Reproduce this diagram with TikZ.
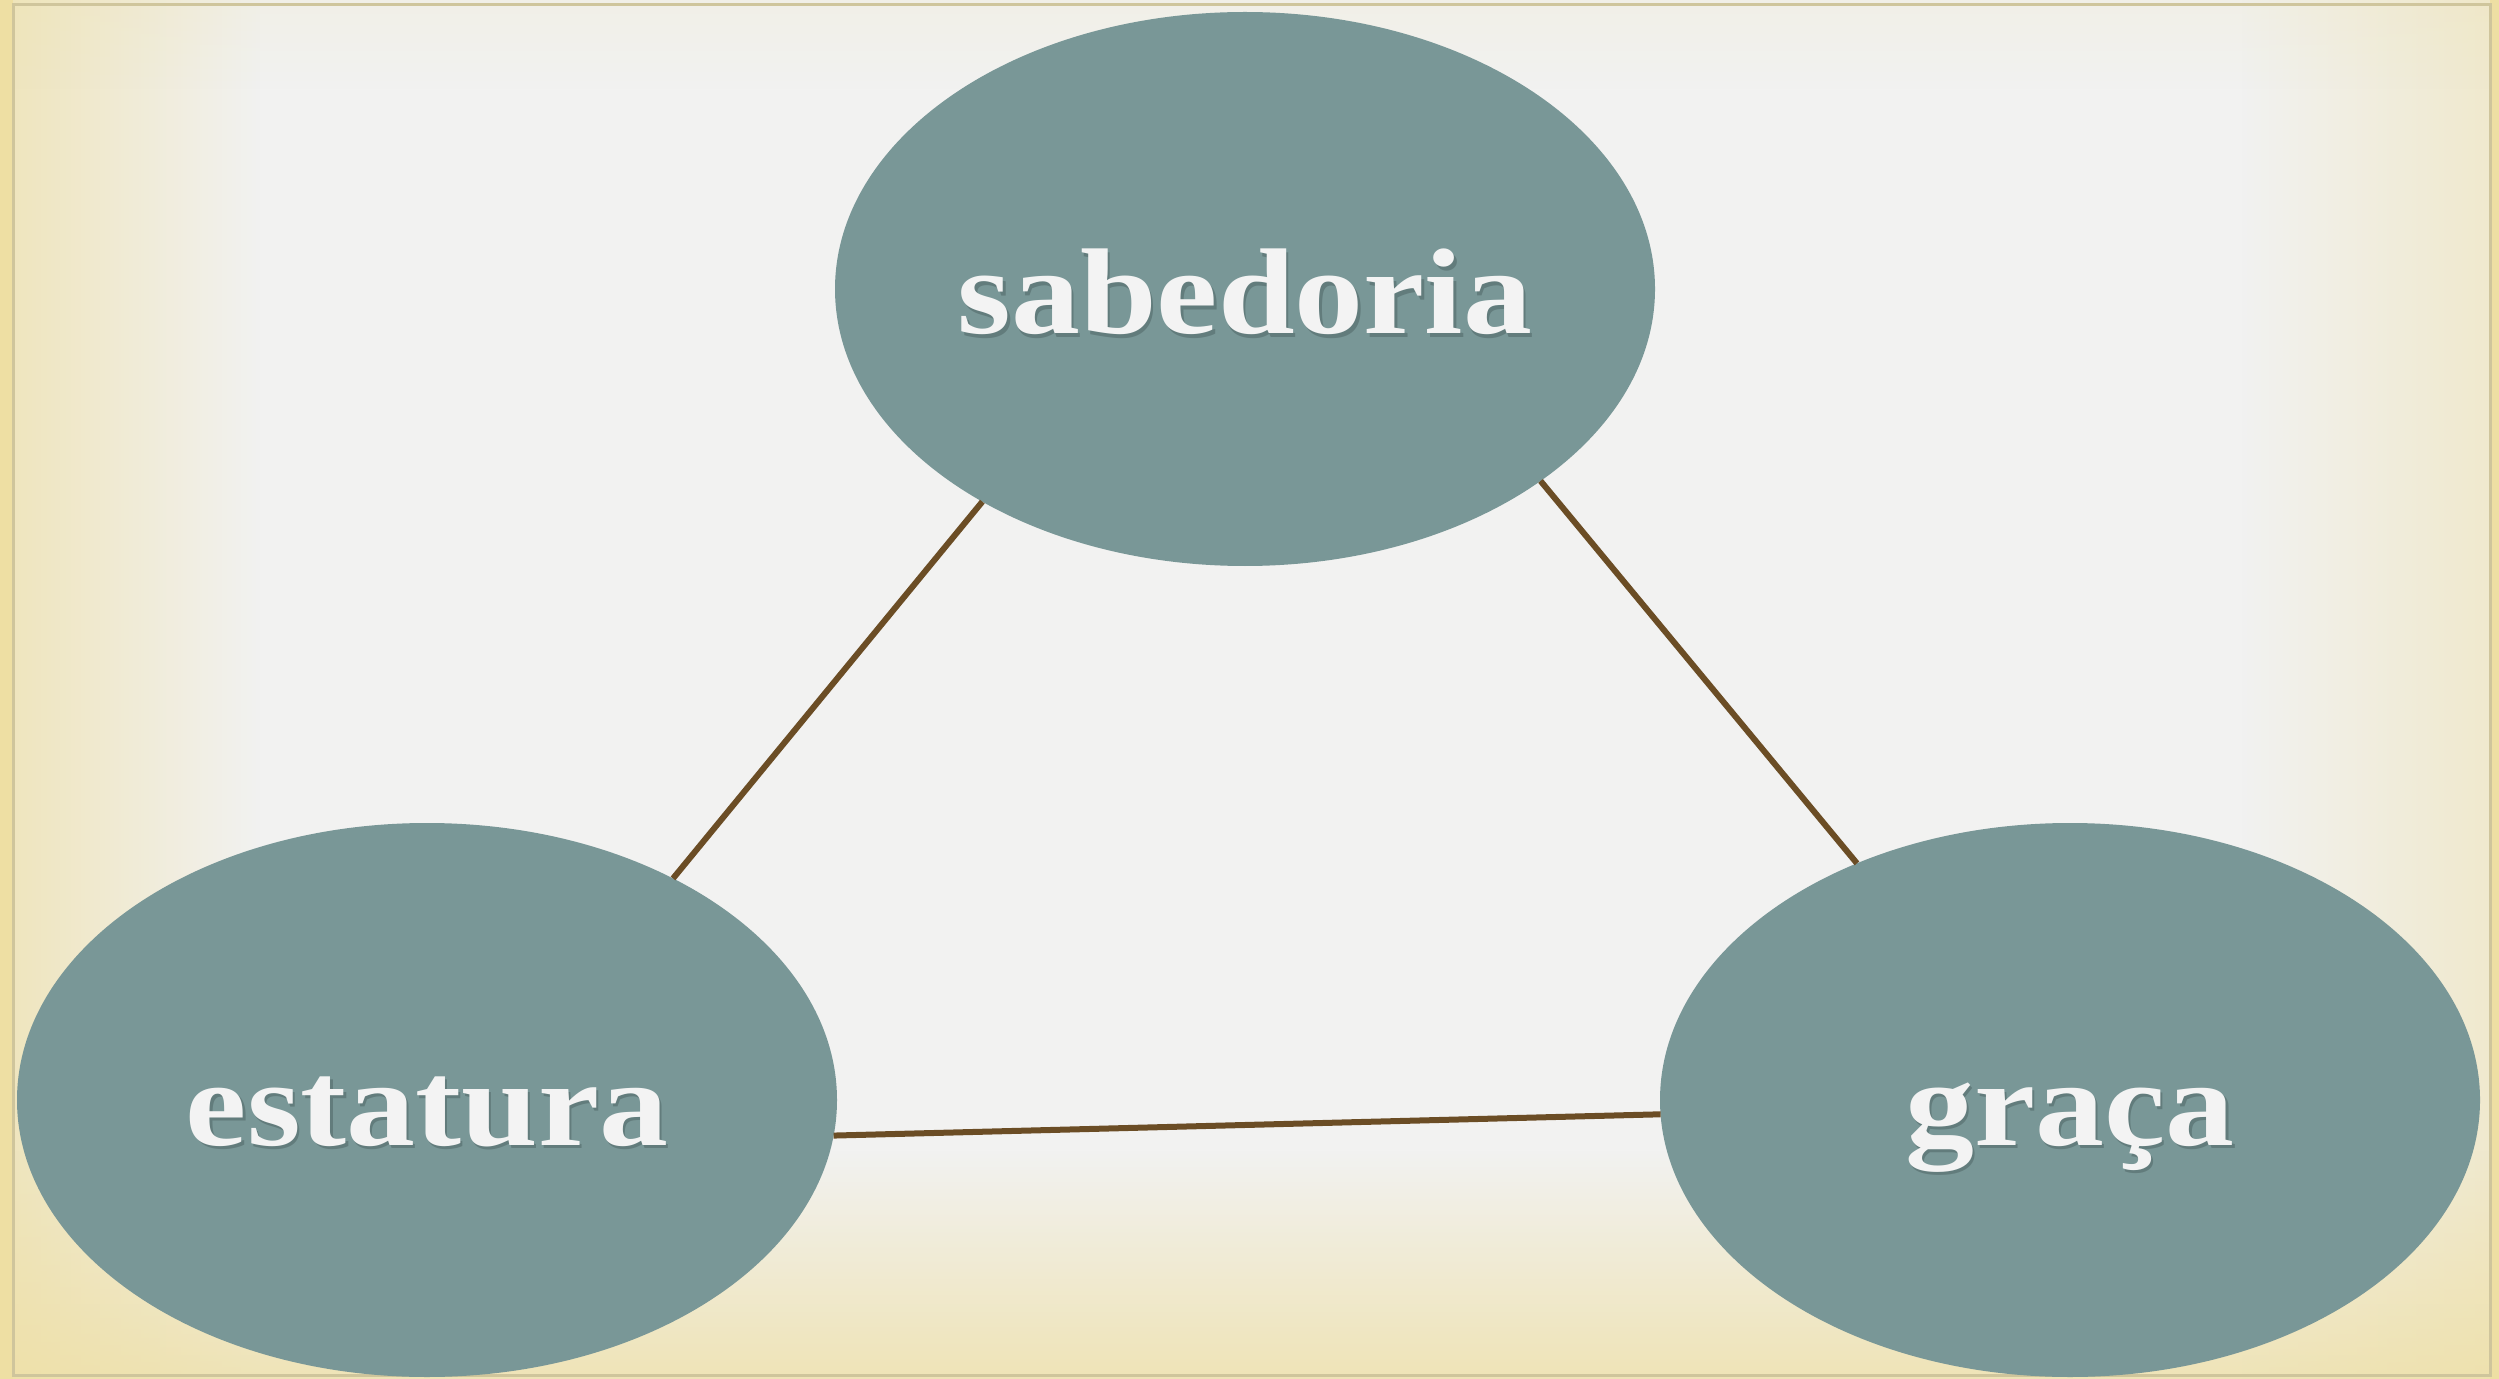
\documentclass[tikz,border=0pt]{standalone}
\usepackage{fontspec}
\newfontfamily\lblfont{Liberation Serif}[FakeStretch=1.13]
\usetikzlibrary{shapes.geometric,fadings}
\definecolor{bgc}{HTML}{F2F2F1}
\definecolor{vig}{HTML}{EEDFA3}
\definecolor{ellc}{HTML}{799797}
\definecolor{linec}{HTML}{6B4D25}
\definecolor{txtc}{HTML}{F3F3F3}
\definecolor{shc}{HTML}{627C7C}
\definecolor{framec}{HTML}{CFC59C}
\newcommand\shadowed[1]{\makebox[0pt][l]{\kern1.2pt\raisebox{-1.6pt}{\color{shc}#1}}#1}
\begin{document}
\begin{tikzpicture}[x=0.5pt,y=-0.5pt,
  bubble/.style={ellipse, fill=ellc, minimum width=410pt, minimum height=277pt,
    inner sep=0pt, outer sep=0pt, text=txtc,
    font=\lblfont\bfseries\fontsize{61}{72}\selectfont, text height=45pt, text depth=0pt},
  conn/.style={draw=linec, line width=3pt}]
\useasboundingbox (0,0) rectangle (2499,1379);
\fill[bgc] (0,0) rectangle (2499,1379);
\fill[vig, fill opacity=0.65, path fading=east] (13,0) rectangle (260,1379);
\fill[vig, fill opacity=0.45, path fading=west] (2240,0) rectangle (2490,1379);
\fill[vig, fill opacity=0.75, path fading=north] (0,1150) rectangle (2499,1379);
\fill[vig, fill opacity=0.12, path fading=south] (0,0) rectangle (2499,90);
\fill[vig] (0,0) rectangle (13,1379);
\fill[vig] (2490,0) rectangle (2499,1379);
\draw[framec, line width=1.5pt] (13,5) rectangle (2490,1375);
\node[bubble] (sab) at (1245,289) {\shadowed{sabedoria}};
\node[bubble] (est) at (427,1100) {\shadowed{estatura}};
\node[bubble] (gra) at (2070,1100) {\shadowed{graça}};
\draw[conn] (sab.219.7) -- (est.42.7);
\draw[conn] (sab.327.1) -- (gra.132.2);
\draw[conn] (est.355.6) -- (gra.182.7);
\end{tikzpicture}
\end{document}
